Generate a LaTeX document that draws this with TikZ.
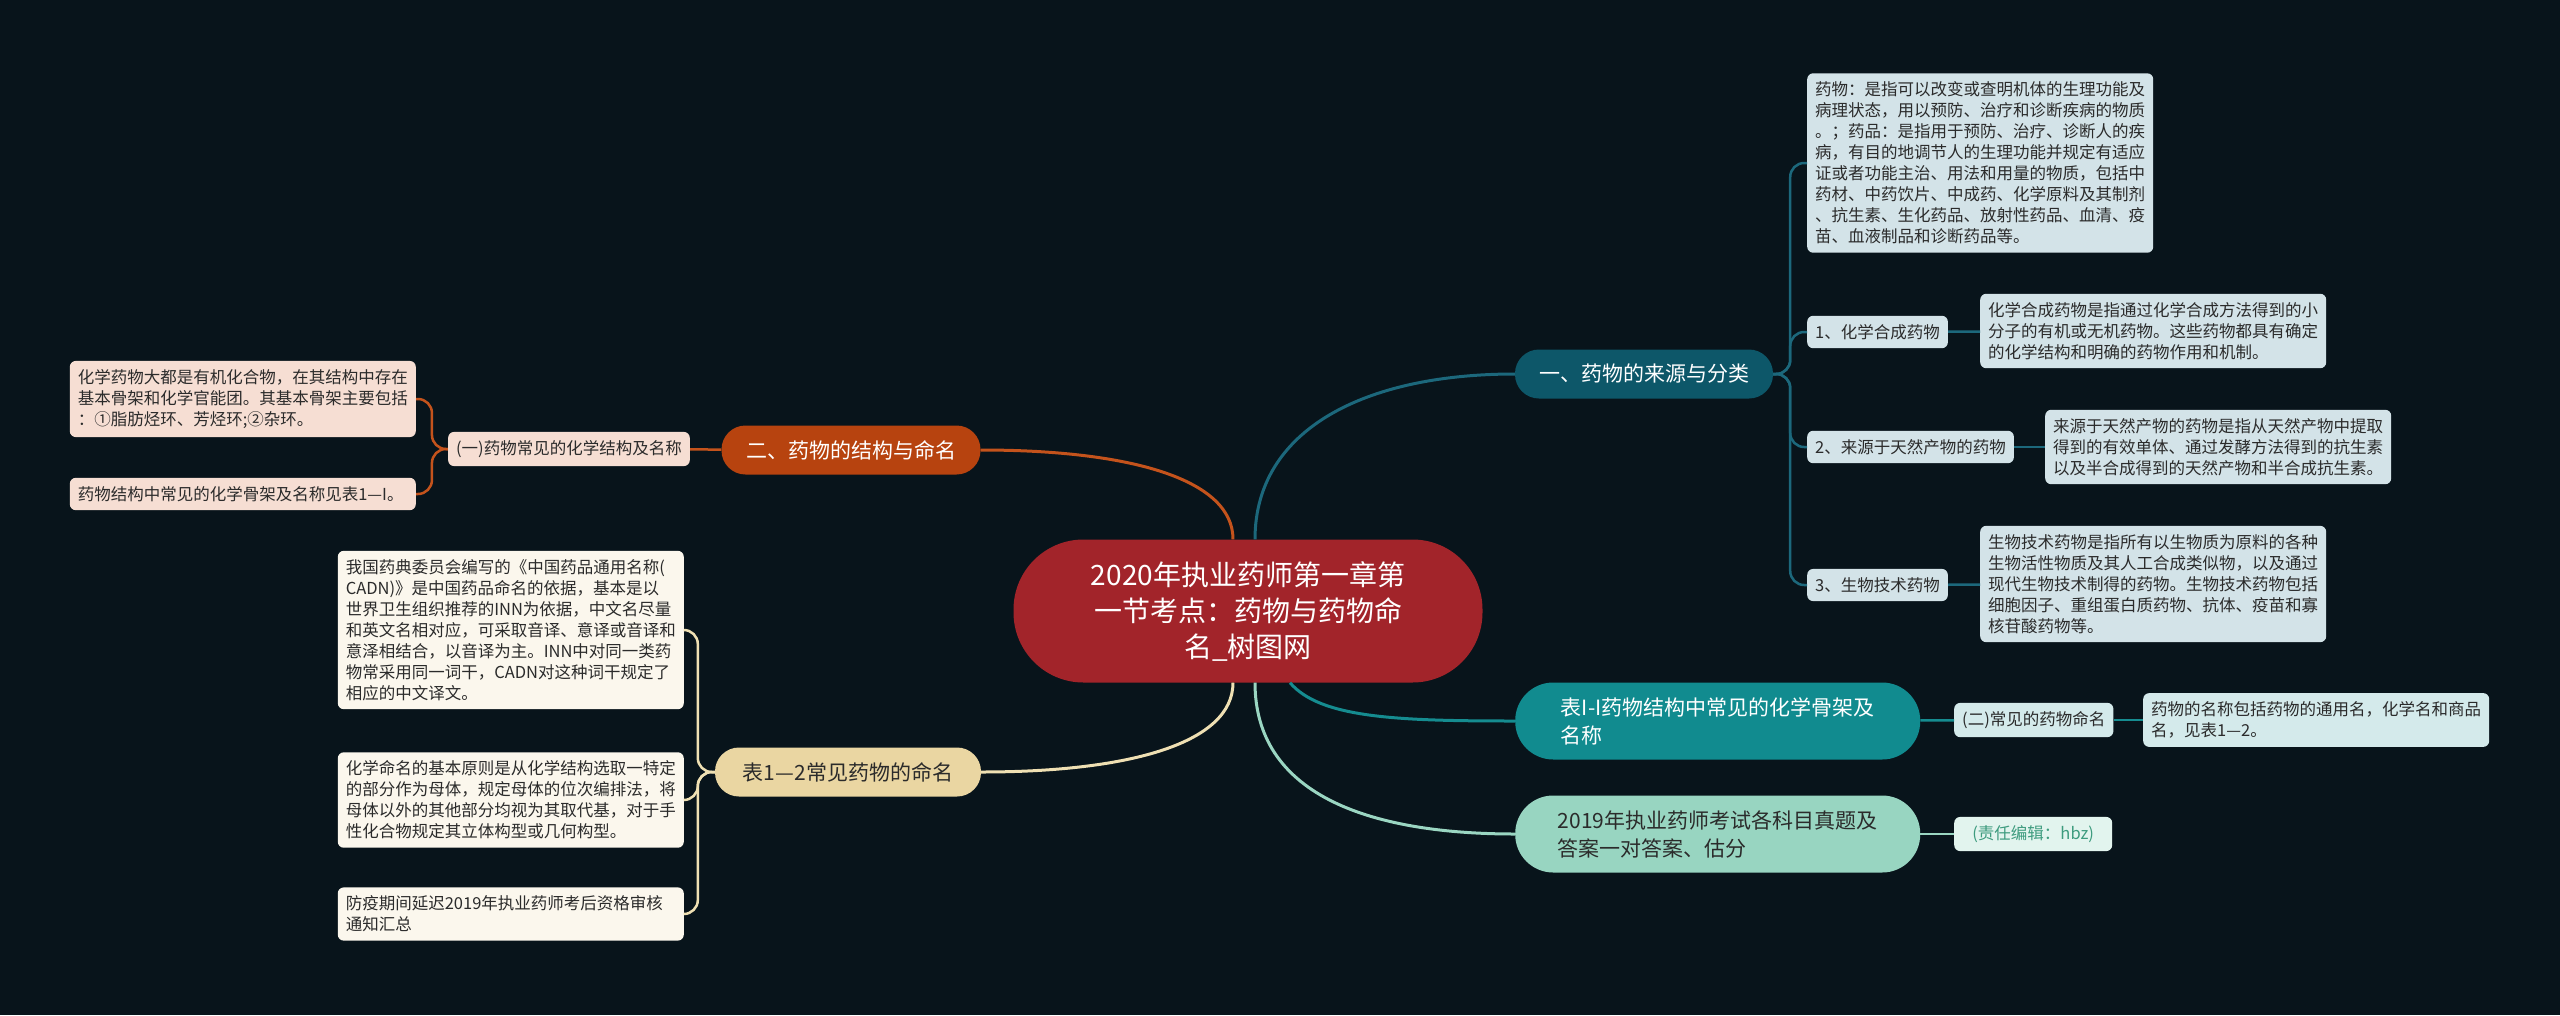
\documentclass[tikz,border=0pt]{standalone}
\usepackage{fontspec}
\setmainfont{Noto Sans CJK SC}
\usetikzlibrary{positioning}
\definecolor{bgc}{HTML}{08141B}
\definecolor{rootc}{HTML}{A2242A}
\definecolor{srcc}{HTML}{0D5769}
\definecolor{tblc}{HTML}{118B8F}
\definecolor{examc}{HTML}{98D5C1}
\definecolor{strc}{HTML}{B7430F}
\definecolor{nmc}{HTML}{EAD6A2}
\definecolor{bluebox}{HTML}{D3E3E8}
\definecolor{cyanbox}{HTML}{D4EAEB}
\definecolor{mintbox}{HTML}{E2F4EE}
\definecolor{peach}{HTML}{F6DED3}
\definecolor{cream}{HTML}{FBF7ED}
\definecolor{txtc}{HTML}{2B2B2B}
\definecolor{edc}{HTML}{3D9B7E}
\definecolor{lkblue}{HTML}{1C687C}
\definecolor{lkteal}{HTML}{158C90}
\definecolor{lkmint}{HTML}{9AD6C2}
\definecolor{lkorange}{HTML}{C4531C}
\definecolor{lktan}{HTML}{EFE0B3}

\begin{document}
\begin{tikzpicture}
        [x=1pt, y=-1pt,
        every node/.style={align=left, inner xsep=8pt, inner ysep=8.5pt,
        rounded corners=6pt, text=txtc, font=\fontsize{16.5}{21}\selectfont},
        rootnode/.style={fill=rootc, text=white, align=center,
        minimum width=469pt, minimum height=143pt, rounded corners=70pt,
        font=\fontsize{28}{36}\selectfont},
        topic/.style={minimum height=49pt, rounded corners=24pt, align=center,
        font=\fontsize{21}{28}\selectfont},
        widetopic/.style={minimum width=405pt, minimum height=77pt,
        rounded corners=38pt, font=\fontsize{21}{28}\selectfont},
        link/.style={line width=3pt},
        sublink/.style={line width=2.5pt, rounded corners=14pt}]
        \fill[bgc] (0,0) rectangle (2560,1015);

        % centre
        \node[rootnode] (root) at (1248,611)
            {2020年执业药师第一章第\\一节考点：药物与药物命\\名\_树图网};

        % right side
        \node[topic, fill=srcc, text=white, minimum width=258pt] (src) at (1644,374)
            {一、药物的来源与分类};
        \node[fill=bluebox, anchor=west] (def) at (1807,163)
            {药物：是指可以改变或查明机体的生理功能及\\病理状态，用以预防、治疗和诊断疾病的物质\\。；药品：是指用于预防、治疗、诊断人的疾\\病，有目的地调节人的生理功能并规定有适应\\证或者功能主治、用法和用量的物质，包括中\\药材、中药饮片、中成药、化学原料及其制剂\\、抗生素、生化药品、放射性药品、血清、疫\\苗、血液制品和诊断药品等。};
        \node[fill=bluebox, anchor=west] (it1) at (1807,332) {1、化学合成药物};
        \node[fill=bluebox, anchor=west] (d1) at (1980,331)
            {化学合成药物是指通过化学合成方法得到的小\\分子的有机或无机药物。这些药物都具有确定\\的化学结构和明确的药物作用和机制。};
        \node[fill=bluebox, anchor=west] (it2) at (1807,447) {2、来源于天然产物的药物};
        \node[fill=bluebox, anchor=west] (d2) at (2045,447)
            {来源于天然产物的药物是指从天然产物中提取\\得到的有效单体、通过发酵方法得到的抗生素\\以及半合成得到的天然产物和半合成抗生素。};
        \node[fill=bluebox, anchor=west] (it3) at (1807,585) {3、生物技术药物};
        \node[fill=bluebox, anchor=west] (d3) at (1980,584)
            {生物技术药物是指所有以生物质为原料的各种\\生物活性物质及其人工合成类似物，以及通过\\现代生物技术制得的药物。生物技术药物包括\\细胞因子、重组蛋白质药物、抗体、疫苗和寡\\核苷酸药物等。};

        \node[widetopic, fill=tblc, text=white, anchor=west] (tbl) at (1515,721)
            {表I-I药物结构中常见的化学骨架及\\名称};
        \node[fill=cyanbox, anchor=west] (nam) at (1954,720) {(二)常见的药物命名};
        \node[fill=cyanbox, anchor=west] (namd) at (2143,720)
            {药物的名称包括药物的通用名，化学名和商品\\名，见表1—2。};

        \node[widetopic, fill=examc, anchor=west] (exam) at (1515,834)
            {2019年执业药师考试各科目真题及\\答案一对答案、估分};
        \node[fill=mintbox, text=edc, anchor=west, minimum width=158pt] (ed) at (1954,834)
            {(责任编辑：hbz)};

        % left side
        \node[topic, fill=strc, text=white, minimum width=259pt] (str) at (851,450)
            {二、药物的结构与命名};
        \node[fill=peach, anchor=east] (sub) at (690,449) {(一)药物常见的化学结构及名称};
        \node[fill=peach, anchor=east] (sk1) at (416,399)
            {化学药物大都是有机化合物，在其结构中存在\\基本骨架和化学官能团。其基本骨架主要包括\\：①脂肪烃环、芳烃环;②杂环。};
        \node[fill=peach, anchor=east, text width=330pt] (sk2) at (416,494)
            {药物结构中常见的化学骨架及名称见表1—I。};

        \node[topic, fill=nmc, minimum width=266pt] (nm) at (848,772)
            {表1—2常见药物的命名};
        \node[fill=cream, anchor=east] (nk1) at (684,630)
            {我国药典委员会编写的《中国药品通用名称(\\CADN)》是中国药品命名的依据，基本是以\\世界卫生组织推荐的INN为依据，中文名尽量\\和英文名相对应，可采取音译、意译或音译和\\意泽相结合，以音译为主。INN中对同一类药\\物常采用同一词干，CADN对这种词干规定了\\相应的中文译文。};
        \node[fill=cream, anchor=east] (nk2) at (684,800)
            {化学命名的基本原则是从化学结构选取一特定\\的部分作为母体，规定母体的位次编排法，将\\母体以外的其他部分均视为其取代基，对于手\\性化合物规定其立体构型或几何构型。};
        \node[fill=cream, anchor=east, text width=330pt] (nk3) at (684,914)
            {防疫期间延迟2019年执业药师考后资格审核\\通知汇总};

        % links from the centre
        \draw[link, lkblue] ([xshift=7pt]root.north) .. controls +(0,-110) and +(-150,0) .. (src.west);
        \draw[link, lkteal] ([xshift=42pt]root.south) .. controls +(30,35) and +(-120,0) .. (tbl.west);
        \draw[link, lkmint] ([xshift=7pt]root.south) .. controls +(0,110) and +(-150,0) .. (exam.west);
        \draw[link, lkorange] ([xshift=-15pt]root.north) .. controls +(0,-60) and +(150,0) .. (str.east);
        \draw[link, lktan] ([xshift=-15pt]root.south) .. controls +(0,60) and +(150,0) .. (nm.east);

        % branches
        \foreach \k in {def,it1,it2,it3}
            \draw[sublink, lkblue] (src.east) -- ++(17,0) |- (\k.west);
        \draw[sublink, lkblue] (it1) -- (d1);
        \draw[sublink, lkblue] (it2) -- (d2);
        \draw[sublink, lkblue] (it3) -- (d3);
        \draw[sublink, lkteal] (tbl) -- (nam);
        \draw[sublink, lkteal] (nam) -- (namd);
        \draw[sublink, lkmint] (exam) -- (ed);
        \draw[sublink, lkorange] (str) -- (sub);
        \foreach \k in {sk1,sk2}
            \draw[sublink, lkorange] (sub.west) -- ++(-16,0) |- (\k.east);
        \foreach \k in {nk1,nk2,nk3}
            \draw[sublink, lktan] (nm.west) -- ++(-17,0) |- (\k.east);
\end{tikzpicture}
\end{document}
